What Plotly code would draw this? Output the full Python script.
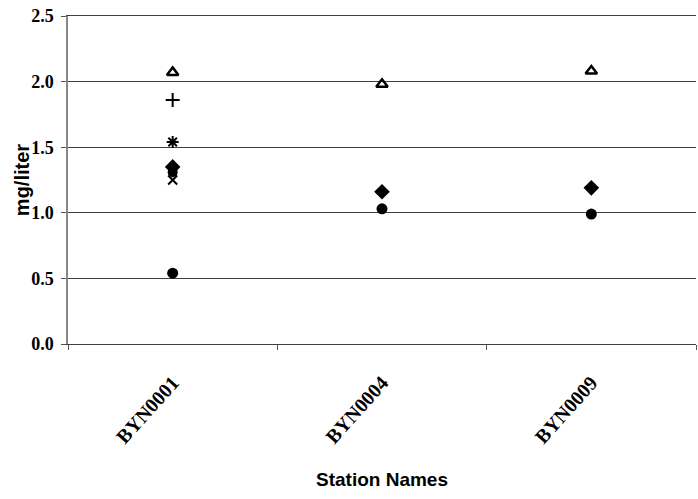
import plotly.graph_objects as go

stations = ["BYN0001", "BYN0004", "BYN0009"]
tri_vals = [2.07, 1.98, 2.08]
plus_vals = [1.86, None, None]
star_vals = [1.54, None, None]
diamond_vals = [1.35, 1.16, 1.19]
circle2_vals = [1.31, None, None]
x_vals = [1.25, None, None]
circle_vals = [0.54, 1.03, 0.99]
y_ticks = [0.0, 0.5, 1.0, 1.5, 2.0, 2.5]
y_tick_text = ["0.0", "0.5", "1.0", "1.5", "2.0", "2.5"]

fig = go.Figure()

def add(vals, symbol, size, name, lw=2):
    fig.add_trace(go.Scatter(
        x=stations, y=vals, mode="markers", name=name,
        marker=dict(symbol=symbol, size=size, color="black",
                    line=dict(color="black", width=lw)),
    ))

add(circle_vals, "circle", 11, "a", 0)
add(circle2_vals, "circle", 10, "b", 0)
add(diamond_vals, "diamond", 12, "c", 0)
add(x_vals, "x-thin", 9, "d")
add(star_vals, "asterisk-open", 10, "e")
add(plus_vals, "cross-thin", 10, "f")
add(tri_vals, "triangle-up-open", 10, "g", 2.5)

fig.add_annotation(
    text="<b>mg/liter</b>", textangle=-90, xref="paper", yref="paper",
    x=-0.073, y=0.5, xanchor="center", yanchor="middle", showarrow=False,
    font=dict(family="Liberation Sans", size=20, color="black"),
)

fig.update_layout(
    width=698, height=499,
    margin=dict(l=68, r=2, t=16, b=155),
    paper_bgcolor="white", plot_bgcolor="white",
    showlegend=False,
    xaxis=dict(
        type="category", tickson="boundaries", ticks="outside", ticklen=5,
        tickcolor="#555", showline=True, linecolor="#404040", linewidth=1.3,
        mirror=True,
        showgrid=False, tickangle=-48, ticklabelstandoff=18,
        tickfont=dict(family="Liberation Serif", size=20, color="black", weight="bold"),
        title=dict(text="<b>Station Names</b>", standoff=26,
                   font=dict(family="Liberation Sans", size=19, color="black")),
        range=[-0.5, 2.5],
    ),
    yaxis=dict(
        range=[0, 2.5], tickvals=y_ticks, ticktext=y_tick_text,
        ticks="outside", ticklen=5, tickcolor="#555", ticklabelstandoff=4,
        showline=True, linecolor="#888", linewidth=1.5,
        showgrid=True, gridcolor="#404040", gridwidth=1,
        zeroline=False,
        tickfont=dict(family="Liberation Serif", size=18, color="black", weight="bold"),
    ),
)

fig.write_html("out.html", config={"displayModeBar": False},
               post_script="document.body.style.margin='0px';")
